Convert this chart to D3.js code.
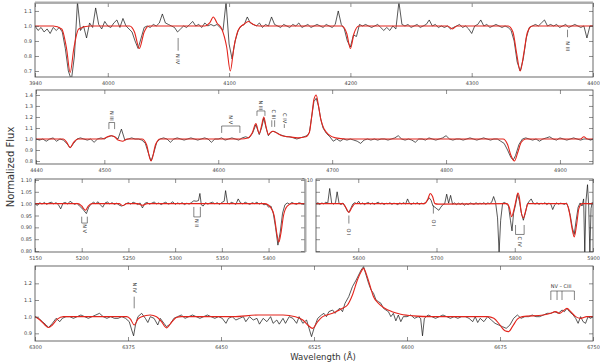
<!DOCTYPE html>
<html lang="en">
<head>
<meta charset="UTF-8">
<title>Normalized spectrum with model fit</title>
<script src="https://d3js.org/d3.v7.min.js"></script>
<style>
  body { margin: 0; background: #fff; }
  text { font-family: "DejaVu Sans", sans-serif; }
  .tick text { font-size: 5px; fill: #444; }
  .tick line { stroke: #444; stroke-width: 0.6px; }
  .frame { fill: none; stroke: #444; stroke-width: 0.8px; }
  .obs { fill: none; stroke: #111; stroke-width: 0.7px; }
  .model { fill: none; stroke: #e3241c; stroke-width: 1.1px; }
  .ann line { stroke: #333; stroke-width: 0.6px; }
  .ann text { font-size: 5px; fill: #333; }
</style>
</head>
<body>
<script>
// ---- observed spectra [wavelength, normalized flux] ----
const obs1 = [[3940,1.00],[3942.5,0.97],[3945,0.99],[3947.5,0.96],[3950,0.98],[3952.5,0.95],[3955,0.99],[3957.5,0.97],[3960,0.99],[3962.5,0.96],[3965,0.85],[3967.5,0.70],[3970,0.64],[3972.5,0.80],[3975,1.16],[3977.5,0.97],[3980,1.00],[3982.5,0.92],[3985,1.02],[3987.5,0.99],[3990,1.12],[3992.5,1.01],[3995,0.98],[3997.5,1.03],[4000,1.00],[4002.5,0.99],[4005,1.02],[4007.5,1.04],[4010,0.99],[4012.5,1.05],[4015,1.00],[4017.5,0.98],[4020,0.96],[4022.5,0.90],[4025,0.85],[4027.5,0.92],[4030,0.99],[4032.5,1.00],[4035,0.99],[4037.5,1.01],[4040,1.00],[4042.5,1.02],[4045,1.08],[4047.5,1.02],[4050,1.01],[4052.5,1.00],[4055,0.99],[4057.5,0.96],[4060,0.98],[4062.5,1.00],[4065,0.99],[4067.5,1.01],[4070,1.03],[4072.5,1.00],[4075,1.01],[4077.5,0.99],[4080,1.02],[4082.5,1.00],[4085,1.01],[4087.5,1.00],[4090,1.01],[4092.5,0.99],[4095,0.97],[4097.5,1.16],[4100,0.88],[4102.5,0.78],[4105,0.90],[4107.5,0.97],[4110,1.00],[4112.5,1.01],[4115,1.06],[4117.5,1.02],[4120,1.01],[4122.5,1.00],[4125,1.02],[4127.5,0.99],[4130,1.01],[4132.5,1.00],[4135,1.06],[4137.5,1.01],[4140,1.00],[4142.5,0.99],[4145,1.01],[4147.5,1.00],[4150,0.99],[4152.5,1.01],[4155,1.00],[4157.5,1.02],[4160,0.99],[4162.5,1.00],[4165,1.01],[4167.5,0.99],[4170,1.00],[4172.5,1.01],[4175,1.00],[4177.5,0.99],[4180,1.01],[4182.5,1.00],[4185,0.99],[4187.5,1.01],[4190,1.10],[4192.5,1.01],[4195,0.98],[4197.5,0.90],[4200,0.86],[4202.5,0.94],[4205,0.93],[4207.5,1.01],[4210,1.00],[4212.5,1.01],[4215,1.00],[4217.5,0.99],[4220,1.00],[4222.5,1.01],[4225,0.99],[4227.5,0.97],[4230,0.99],[4232.5,0.97],[4235,1.00],[4237.5,0.98],[4240,1.16],[4242.5,1.01],[4245,1.00],[4247.5,1.01],[4250,0.99],[4252.5,1.00],[4255,1.01],[4257.5,0.99],[4260,1.00],[4262.5,1.01],[4265,1.04],[4267.5,1.00],[4270,1.01],[4272.5,0.99],[4275,1.00],[4277.5,0.99],[4280,1.00],[4282.5,0.98],[4285,0.99],[4287.5,1.00],[4290,1.01],[4292.5,0.99],[4295,1.00],[4297.5,0.98],[4300,0.95],[4302.5,1.00],[4305,1.01],[4307.5,1.04],[4310,1.00],[4312.5,1.01],[4315,0.99],[4317.5,1.00],[4320,1.01],[4322.5,1.00],[4325,0.99],[4327.5,1.00],[4330,0.99],[4332.5,0.97],[4335,0.90],[4337.5,0.76],[4340,0.70],[4342.5,0.78],[4345,0.92],[4347.5,0.99],[4350,1.00],[4352.5,1.01],[4355,1.00],[4357.5,1.02],[4360,1.04],[4362.5,1.00],[4365,1.01],[4367.5,1.00],[4370,1.01],[4372.5,0.99],[4375,1.00],[4377.5,1.01],[4380,0.99],[4382.5,1.00],[4385,1.01],[4387.5,1.00],[4390,0.99],[4392.5,1.00],[4395,0.92],[4397.5,1.00],[4400,1.00]];

const obs2 = [[4440,1.00],[4443,0.99],[4446,1.00],[4449,0.98],[4452,1.00],[4455,1.01],[4458,0.98],[4461,1.00],[4464,0.99],[4467,0.96],[4470,0.92],[4473,0.96],[4476,1.00],[4479,1.01],[4482,1.00],[4485,0.99],[4488,1.00],[4491,0.97],[4494,1.00],[4497,1.01],[4500,1.00],[4503,1.02],[4506,1.03],[4509,1.02],[4512,1.00],[4515,1.09],[4518,0.99],[4521,1.00],[4524,1.01],[4527,1.00],[4530,1.00],[4533,0.99],[4536,0.96],[4539,0.86],[4541,0.80],[4543,0.86],[4546,0.97],[4549,1.00],[4552,1.01],[4555,1.00],[4558,0.97],[4561,1.00],[4564,1.01],[4567,1.00],[4570,0.99],[4573,1.00],[4576,1.01],[4579,1.00],[4582,0.99],[4585,1.00],[4588,1.01],[4591,1.00],[4594,0.97],[4597,1.00],[4600,1.00],[4603,1.01],[4606,0.99],[4609,1.00],[4612,1.01],[4615,1.00],[4618,0.99],[4621,1.01],[4624,1.02],[4627,1.01],[4630,1.05],[4633,1.13],[4636,1.04],[4638,1.10],[4640,1.19],[4642,1.10],[4644,1.03],[4646,1.06],[4648,1.07],[4651,1.06],[4654,1.04],[4657,1.03],[4660,1.02],[4663,1.02],[4666,1.01],[4669,1.00],[4672,1.01],[4675,1.02],[4678,1.03],[4680,1.06],[4682,1.20],[4684,1.34],[4686,1.37],[4688,1.30],[4690,1.18],[4692,1.10],[4695,1.05],[4698,1.02],[4701,0.98],[4704,1.00],[4707,0.98],[4710,1.00],[4713,0.99],[4716,1.00],[4719,0.99],[4722,0.98],[4725,0.96],[4728,0.99],[4731,1.00],[4734,0.99],[4737,1.00],[4740,0.99],[4743,1.00],[4746,1.00],[4749,0.99],[4752,1.00],[4755,1.01],[4758,1.03],[4761,1.00],[4764,0.99],[4767,1.00],[4770,0.99],[4773,0.97],[4776,1.00],[4779,1.00],[4782,0.99],[4785,1.01],[4788,1.00],[4791,0.99],[4794,1.00],[4797,1.01],[4800,1.03],[4803,1.00],[4806,0.99],[4809,1.00],[4812,1.00],[4815,0.99],[4818,1.00],[4821,1.01],[4824,1.00],[4827,0.99],[4830,1.00],[4833,1.01],[4836,1.00],[4839,0.99],[4842,1.00],[4845,1.00],[4848,0.98],[4851,0.96],[4854,0.90],[4857,0.83],[4859,0.81],[4861,0.85],[4864,0.95],[4867,1.00],[4870,1.01],[4873,1.00],[4876,0.99],[4879,1.00],[4882,0.98],[4885,1.00],[4888,1.01],[4891,1.02],[4894,1.00],[4897,0.99],[4900,1.01],[4903,1.00],[4906,0.99],[4909,1.00],[4912,1.01],[4915,1.00],[4918,0.99],[4921,1.00],[4924,1.00],[4927,0.99],[4929,1.00]];

const obs3 = [[5150,1.000],[5152.5,0.992],[5155,1.004],[5157.5,0.998],[5160,1.005],[5162.5,0.997],[5165,1.003],[5167.5,1.006],[5170,0.999],[5172.5,1.004],[5175,0.996],[5177.5,0.978],[5180,1.002],[5182.5,1.005],[5185,0.998],[5187.5,1.010],[5190,1.003],[5192.5,0.997],[5195,1.002],[5197.5,0.990],[5200,0.982],[5202.5,0.970],[5205,0.958],[5207.5,0.985],[5210,0.998],[5212.5,1.006],[5215,1.000],[5217.5,1.008],[5220,0.995],[5222.5,0.985],[5225,1.003],[5227.5,1.007],[5230,0.999],[5232.5,1.004],[5235,0.997],[5237.5,1.002],[5240,0.994],[5242.5,0.990],[5245,0.993],[5247.5,1.000],[5250,1.004],[5252.5,0.998],[5255,1.006],[5257.5,1.002],[5260,0.996],[5262.5,1.003],[5265,0.982],[5267.5,1.001],[5270,1.005],[5272.5,0.998],[5275,1.002],[5277.5,1.007],[5280,0.999],[5282.5,1.003],[5285,0.996],[5287.5,1.002],[5290,1.006],[5292.5,0.998],[5295,1.001],[5297.5,1.008],[5300,0.997],[5302.5,1.003],[5305,0.999],[5307.5,1.004],[5310,0.996],[5312.5,1.002],[5315,0.998],[5317.5,1.005],[5320,1.012],[5322.5,1.010],[5325,1.013],[5326.5,1.043],[5328,0.995],[5330,0.990],[5332.5,1.004],[5335,0.998],[5337.5,1.003],[5340,1.006],[5342.5,0.999],[5345,1.004],[5347.5,0.997],[5350,1.005],[5352.5,1.010],[5354,1.055],[5356,1.004],[5358,0.998],[5360,1.006],[5362.5,1.002],[5365,0.997],[5367.5,1.020],[5370,1.003],[5372.5,0.999],[5375,1.006],[5377.5,1.001],[5380,0.997],[5382.5,1.004],[5385,1.000],[5387.5,1.006],[5390,0.998],[5392.5,1.003],[5395,0.995],[5397.5,0.998],[5400,0.985],[5402.5,0.990],[5405,0.960],[5407.5,0.900],[5410,0.825],[5412.5,0.880],[5415,0.960],[5417.5,0.995],[5420,1.003],[5422.5,0.998],[5425,1.005],[5427.5,1.000],[5430,0.997],[5432.5,1.004],[5435,1.001],[5437.5,0.998],[5439,1.002]];

const obs4 = [[5546,1.000],[5548.5,1.004],[5551,0.997],[5553.5,1.003],[5556,0.999],[5558.5,1.006],[5561,1.002],[5563.5,1.064],[5566,1.003],[5568.5,0.998],[5571,1.005],[5573,1.050],[5575.5,1.001],[5578,0.996],[5580.5,1.003],[5583,0.990],[5585.5,0.972],[5588,0.963],[5590.5,0.980],[5593,0.998],[5595.5,1.004],[5598,1.000],[5600.5,1.010],[5603,0.998],[5605.5,1.003],[5608,0.996],[5610.5,1.002],[5613,1.005],[5615.5,0.998],[5618,1.003],[5620.5,0.997],[5623,1.002],[5625.5,1.006],[5628,0.999],[5630.5,1.003],[5633,0.996],[5635.5,1.002],[5638,0.999],[5640.5,1.004],[5643,0.997],[5645.5,1.002],[5648,1.000],[5650.5,0.996],[5653,1.003],[5655.5,0.999],[5658,1.004],[5660.5,0.998],[5663,1.020],[5665.5,1.001],[5668,0.997],[5670.5,1.003],[5673,0.999],[5675.5,1.004],[5678,0.997],[5680.5,1.002],[5683,0.999],[5685.5,1.004],[5688,1.010],[5690.5,1.025],[5693,1.015],[5695.5,0.990],[5698,0.985],[5700.5,0.978],[5703,0.972],[5705.5,0.985],[5708,0.995],[5710.5,1.000],[5713,1.040],[5715.5,1.002],[5718,1.035],[5720.5,0.998],[5723,1.003],[5725.5,0.996],[5728,1.002],[5730.5,0.997],[5733,1.003],[5735.5,0.993],[5738,1.000],[5740.5,0.996],[5743,1.003],[5745.5,1.000],[5748,0.997],[5750.5,1.004],[5753,0.998],[5755.5,1.002],[5758,0.999],[5760.5,1.004],[5763,0.997],[5765.5,1.003],[5768,1.000],[5770.5,1.006],[5773,1.030],[5775.5,1.005],[5778,0.940],[5780,0.795],[5782,0.930],[5784.5,1.002],[5787,1.005],[5789.5,0.999],[5792,0.990],[5794.5,0.930],[5796.5,0.885],[5798.5,0.960],[5801,0.995],[5803.5,1.040],[5806,1.010],[5808.5,0.960],[5811,0.930],[5813.5,0.960],[5816,0.998],[5818.5,1.010],[5821,1.020],[5823.5,1.003],[5826,0.998],[5828.5,1.004],[5831,0.997],[5833.5,1.002],[5836,0.999],[5838.5,1.004],[5841,0.996],[5843.5,1.002],[5846,0.999],[5848.5,0.975],[5851,0.995],[5853.5,1.003],[5856,0.998],[5858.5,1.002],[5861,1.000],[5863.5,0.997],[5866,1.003],[5868.5,0.985],[5871,0.950],[5873.5,0.900],[5876,0.870],[5878.5,0.930],[5881,0.985],[5883.5,1.003],[5886,0.990],[5888,1.020],[5889.5,0.790],[5891,1.010],[5893,1.080],[5894.5,0.990],[5896,0.790],[5897.5,0.980],[5899,1.005],[5900,1.000]];

const obs5 = [[6300,1.00],[6303,0.99],[6306,0.97],[6309,0.95],[6311,0.935],[6314,0.96],[6317,0.99],[6320,0.97],[6322,0.99],[6325,1.00],[6328,1.00],[6331,0.99],[6334,1.00],[6337,1.01],[6340,1.00],[6343,0.99],[6346,1.00],[6349,1.01],[6352,1.02],[6355,1.00],[6358,0.99],[6361,1.00],[6364,0.99],[6367,0.99],[6370,1.00],[6373,0.99],[6376,0.97],[6378,0.92],[6379.5,0.885],[6381,0.95],[6383,1.00],[6386,1.02],[6389,0.99],[6391,0.965],[6393,1.00],[6396,0.99],[6399,0.95],[6401,0.99],[6404,0.96],[6406,0.94],[6409,0.955],[6412,0.99],[6415,1.00],[6418,1.01],[6421,0.99],[6424,1.00],[6427,1.01],[6430,1.00],[6433,0.99],[6436,1.00],[6439,1.01],[6442,1.00],[6445,0.99],[6448,1.00],[6451,0.99],[6454,0.96],[6456,0.99],[6459,1.00],[6462,0.98],[6465,0.99],[6468,1.00],[6470,0.97],[6473,1.00],[6476,0.98],[6479,0.99],[6481,0.955],[6484,0.99],[6487,0.97],[6490,1.00],[6492,0.96],[6495,0.98],[6497,0.955],[6500,0.99],[6502,0.96],[6505,1.00],[6508,0.99],[6511,0.96],[6513,1.00],[6516,0.96],[6519,0.98],[6521,0.93],[6523,0.88],[6525,0.93],[6528,0.99],[6531,1.01],[6533,1.02],[6535,1.00],[6537,1.03],[6540,1.04],[6542,1.02],[6544,1.04],[6546,1.05],[6548,1.03],[6550,1.08],[6553,1.12],[6556,1.18],[6559,1.22],[6561,1.25],[6563,1.28],[6565,1.30],[6567,1.25],[6569,1.20],[6571,1.16],[6573,1.14],[6575,1.10],[6577,1.09],[6579,1.08],[6581,1.05],[6583,1.04],[6585,1.03],[6587,1.00],[6589,1.02],[6591,0.975],[6593,1.01],[6595,0.97],[6597,1.00],[6600,1.00],[6603,1.01],[6606,0.99],[6609,1.00],[6611,0.99],[6612.5,0.885],[6614,0.99],[6617,1.01],[6620,1.00],[6623,0.99],[6626,1.00],[6629,1.01],[6632,1.00],[6635,0.99],[6638,1.00],[6641,0.99],[6644,1.00],[6647,1.00],[6650,0.99],[6653,0.97],[6655,1.00],[6657,0.965],[6659,0.99],[6662,0.97],[6665,1.00],[6668,0.98],[6671,0.96],[6674,0.95],[6677,0.94],[6680,0.93],[6683,0.95],[6686,0.99],[6689,1.01],[6692,0.99],[6695,1.00],[6698,1.00],[6701,1.01],[6704,1.00],[6707,1.00],[6710,1.01],[6713,1.02],[6716,1.02],[6719,1.03],[6722,1.02],[6725,1.04],[6727,1.03],[6729,1.05],[6731,1.03],[6734,1.01],[6736,0.99],[6738,0.96],[6740,1.00],[6742,0.97],[6744,0.96],[6746,1.00],[6748,0.99],[6750,1.00]];

// ---- model spectra ----
const model1 = [[3940,1.0],[3955,1.0],[3962,0.98],[3966,0.85],[3969,0.69],[3972,0.85],[3976,0.98],[3985,1.0],[4018,1.0],[4022,0.96],[4026,0.85],[4030,0.96],[4034,1.0],[4080,1.0],[4084,1.02],[4087,1.06],[4090,1.02],[4094,0.98],[4098,0.86],[4101,0.70],[4104,0.86],[4108,0.98],[4112,1.01],[4116,1.03],[4120,1.01],[4125,1.0],[4193,1.0],[4197,0.95],[4200,0.85],[4203,0.95],[4207,1.0],[4280,1.0],[4284,0.98],[4288,1.0],[4330,1.0],[4334,0.96],[4337,0.82],[4340,0.70],[4343,0.82],[4346,0.96],[4350,1.0],[4400,1.0]];
const model2 = [[4440,1.0],[4464,1.0],[4467,0.97],[4470,0.92],[4473,0.97],[4477,1.0],[4498,1.0],[4503,1.02],[4506,1.03],[4509,1.02],[4512,0.99],[4516,0.98],[4520,1.0],[4533,1.0],[4537,0.95],[4541,0.80],[4545,0.95],[4549,1.0],[4620,1.0],[4626,1.01],[4630,1.06],[4633,1.14],[4636,1.05],[4638,1.12],[4640,1.20],[4642,1.11],[4644,1.04],[4646,1.06],[4648,1.07],[4652,1.05],[4656,1.03],[4662,1.02],[4670,1.01],[4677,1.02],[4680,1.06],[4682,1.20],[4684,1.36],[4686,1.40],[4688,1.30],[4690,1.18],[4693,1.09],[4697,1.04],[4703,1.01],[4712,1.0],[4850,1.0],[4854,0.95],[4857,0.85],[4860,0.80],[4863,0.88],[4866,0.97],[4870,1.0],[4918,1.0],[4921,1.02],[4924,1.0],[4929,1.0]];
const model3 = [[5150,1.0],[5196,1.0],[5200,0.99],[5204,0.972],[5207,0.99],[5211,1.0],[5240,1.0],[5244,0.992],[5248,1.0],[5260,1.0],[5265,0.993],[5270,1.0],[5396,1.0],[5402,0.985],[5406,0.95],[5409,0.87],[5411,0.838],[5413,0.87],[5416,0.95],[5420,0.99],[5425,1.0],[5439,1.0]];
const model4 = [[5546,1.0],[5580,1.0],[5584,0.985],[5588,0.963],[5592,0.985],[5596,1.0],[5685,1.0],[5689,1.02],[5692,1.043],[5695,1.03],[5698,1.0],[5702,0.998],[5790,1.0],[5793,0.985],[5796,0.945],[5799,0.975],[5802,1.02],[5804,1.045],[5806,1.025],[5808,0.97],[5811,0.94],[5814,0.97],[5817,1.0],[5866,1.0],[5870,0.96],[5873,0.90],[5876,0.86],[5879,0.91],[5882,0.98],[5886,1.0],[5900,1.0]];
const model5 = [[6300,1.0],[6304,0.98],[6308,0.95],[6311,0.935],[6314,0.95],[6318,0.985],[6323,1.0],[6374,1.0],[6377,0.985],[6380,0.95],[6383,0.985],[6386,1.0],[6393,1.01],[6398,1.0],[6402,0.97],[6406,0.933],[6410,0.965],[6414,0.995],[6418,1.0],[6460,1.0],[6480,1.01],[6500,1.01],[6510,1.0],[6516,0.98],[6520,0.95],[6524,0.93],[6528,0.97],[6532,1.0],[6540,1.02],[6548,1.05],[6552,1.07],[6556,1.13],[6560,1.22],[6563,1.27],[6565,1.29],[6567,1.26],[6570,1.19],[6573,1.12],[6577,1.08],[6582,1.05],[6588,1.03],[6595,1.015],[6605,1.005],[6620,1.0],[6665,1.0],[6670,0.99],[6675,0.95],[6679,0.915],[6682,0.91],[6685,0.94],[6689,0.985],[6693,1.0],[6710,1.01],[6716,1.02],[6720,1.03],[6723,1.02],[6726,1.035],[6729,1.05],[6732,1.03],[6736,1.0],[6740,0.99],[6745,1.0],[6750,1.0]];

// ---- axis ranges and ticks ----
const xDomains = [[3940,4400],[4440,4929],[5150,5439],[5546,5900],[6300,6750]];
const yDomains = [[0.66,1.153],[0.773,1.445],[0.796,1.104],[0.796,1.104],[0.854,1.304]];
const xTicks = [[3940,4000,4100,4200,4300,4400],[4440,4500,4600,4700,4800,4900],[5150,5200,5250,5300,5350,5400],[5600,5700,5800,5900],[6300,6375,6450,6525,6600,6675,6750]];
const yTicks = [[0.7,0.8,0.9,1.0,1.1],[0.8,0.9,1.0,1.1,1.2,1.3,1.4],[0.80,0.85,0.90,0.95,1.00,1.05,1.10],[0.80,0.85,0.90,0.95,1.00,1.05,1.10],[0.9,1.0,1.1,1.2]];
const yLabelShown = [null, null, null, [1.10], null];
const yFormats = [".1f",".1f",".2f",".2f",".1f"];

// ---- line identifications: wavelengths, leg ends (near / bar), label level ----
const ids1 = [
  {label:"N IV", wl:[4058], near:0.92, far:0.835, ly:0.78},
  {label:"N III", wl:[4379], near:0.975, far:0.925, ly:0.865}
];
const ids2 = [
  {label:"N III", wl:[4504,4509], near:1.09, far:1.15, bar:true, ly:1.21},
  {label:"N V", wl:[4603,4619], near:1.055, far:1.118, bar:true, ly:1.175},
  {label:"N III", wl:[4634,4641], near:1.21, far:1.255, bar:true, ly:1.305},
  {label:"C III", wl:[4647,4649.5], near:1.11, far:1.17, ly:1.225},
  {label:"C IV", wl:[4658], near:1.10, far:1.135, ly:1.19}
];
const ids3 = [
  {label:"N V", wl:[5200,5206], near:0.945, far:0.918, bar:true, ly:0.895},
  {label:"N II", wl:[5320,5327], near:0.986, far:0.944, bar:true, ly:0.918}
];
const ids4 = [
  {label:"O I", wl:[5588], near:0.95, far:0.916, ly:0.88},
  {label:"O I", wl:[5696], near:0.993, far:0.958, ly:0.918},
  {label:"C IV", wl:[5801,5812], near:0.91, far:0.87, bar:true, ly:0.84}
];
const ids5 = [
  {label:"N IV", wl:[6380], near:1.05, far:1.12, ly:1.175},
  {label:"NV \u2013 CIII", wl:[6716,6721,6725,6735], near:1.10, far:1.154, bar:true, ly:1.175, flat:true}
];

const obsAll = [obs1, obs2, obs3, obs4, obs5];
const modelAll = [model1, model2, model3, model4, model5];
const idsAll = [ids1, ids2, ids3, ids4, ids5];

// panel boxes in pixels
const boxes = [
  {x0:35, x1:593, y0:3, y1:77},
  {x0:36, x1:593, y0:90, y1:164},
  {x0:35, x1:305, y0:179, y1:252},
  {x0:316, x1:593, y0:179, y1:252},
  {x0:35, x1:593, y0:266, y1:341}
];

const svg = d3.select("body").append("svg")
    .attr("width", 600)
    .attr("height", 364);

// panel 4 first so panel 3 covers its left labels
[0, 1, 3, 2, 4].forEach(function (i) {
    const b = boxes[i];
    const x = d3.scaleLinear().domain(xDomains[i]).range([b.x0, b.x1]);
    const y = d3.scaleLinear().domain(yDomains[i]).range([b.y1, b.y0]);
    const g = svg.append("g");

    g.append("rect")
        .attr("x", b.x0).attr("y", b.y0)
        .attr("width", b.x1 - b.x0).attr("height", b.y1 - b.y0)
        .attr("fill", "#fff");

    const clipId = "clip" + i;
    g.append("clipPath").attr("id", clipId)
        .append("rect")
        .attr("x", b.x0).attr("y", b.y0)
        .attr("width", b.x1 - b.x0).attr("height", b.y1 - b.y0);

    const line = d3.line()
        .x(function (d) { return x(d[0]); })
        .y(function (d) { return y(d[1]); });
    const smooth = d3.line()
        .x(function (d) { return x(d[0]); })
        .y(function (d) { return y(d[1]); })
        .curve(d3.curveMonotoneX);

    const plot = g.append("g").attr("clip-path", "url(#" + clipId + ")");
    plot.append("path").attr("class", "obs").attr("d", line(obsAll[i]));
    plot.append("path").attr("class", "model").attr("d", smooth(modelAll[i]));

    // axes with inward ticks on all four sides
    const fmt = d3.format(yFormats[i]);
    const shown = yLabelShown[i];
    g.append("g").attr("transform", "translate(0," + b.y1 + ")")
        .call(d3.axisBottom(x).tickValues(xTicks[i]).tickSize(-4).tickPadding(4).tickFormat(d3.format("d")))
        .call(function (a) { a.select(".domain").remove(); });
    g.append("g").attr("transform", "translate(0," + b.y0 + ")")
        .call(d3.axisTop(x).tickValues(xTicks[i]).tickSize(-4).tickFormat(""))
        .call(function (a) { a.select(".domain").remove(); });
    g.append("g").attr("transform", "translate(" + b.x0 + ",0)")
        .call(d3.axisLeft(y).tickValues(yTicks[i]).tickSize(-4).tickPadding(3)
            .tickFormat(function (d) { return (!shown || shown.indexOf(d) >= 0) ? fmt(d) : ""; }))
        .call(function (a) { a.select(".domain").remove(); });
    g.append("g").attr("transform", "translate(" + b.x1 + ",0)")
        .call(d3.axisRight(y).tickValues(yTicks[i]).tickSize(-4).tickFormat(""))
        .call(function (a) { a.select(".domain").remove(); });

    g.append("rect").attr("class", "frame")
        .attr("x", b.x0).attr("y", b.y0)
        .attr("width", b.x1 - b.x0).attr("height", b.y1 - b.y0);

    // line identifications
    const ann = g.append("g").attr("class", "ann");
    idsAll[i].forEach(function (m) {
        m.wl.forEach(function (w) {
            ann.append("line")
                .attr("x1", x(w)).attr("x2", x(w))
                .attr("y1", y(m.near)).attr("y2", y(m.far));
        });
        if (m.bar) {
            ann.append("line")
                .attr("x1", x(m.wl[0])).attr("x2", x(m.wl[m.wl.length - 1]))
                .attr("y1", y(m.far)).attr("y2", y(m.far));
        }
        const cx = x(d3.mean(m.wl));
        const t = ann.append("text").text(m.label).attr("text-anchor", "middle");
        if (m.flat) {
            t.attr("x", cx).attr("y", y(m.ly));
        } else {
            t.attr("transform", "translate(" + (cx - 1.7) + "," + y(m.ly) + ") rotate(90)");
        }
    });
});

// gray heavy edges visible in the figure
svg.append("line").attr("x1", 35).attr("x2", 593).attr("y1", 2.5).attr("y2", 2.5)
    .attr("stroke", "#aaa").attr("stroke-width", 2);
svg.append("line").attr("x1", 305.5).attr("x2", 305.5).attr("y1", 179).attr("y2", 252)
    .attr("stroke", "#aaa").attr("stroke-width", 2);

svg.append("text")
    .attr("transform", "translate(14,167) rotate(-90)")
    .attr("text-anchor", "middle")
    .attr("font-size", 10)
    .attr("fill", "#333")
    .text("Normalized Flux");

svg.append("text")
    .attr("x", 323).attr("y", 360)
    .attr("text-anchor", "middle")
    .attr("font-size", 8.5)
    .attr("fill", "#333")
    .text("Wavelength (\u00C5)");
</script>
</body>
</html>
